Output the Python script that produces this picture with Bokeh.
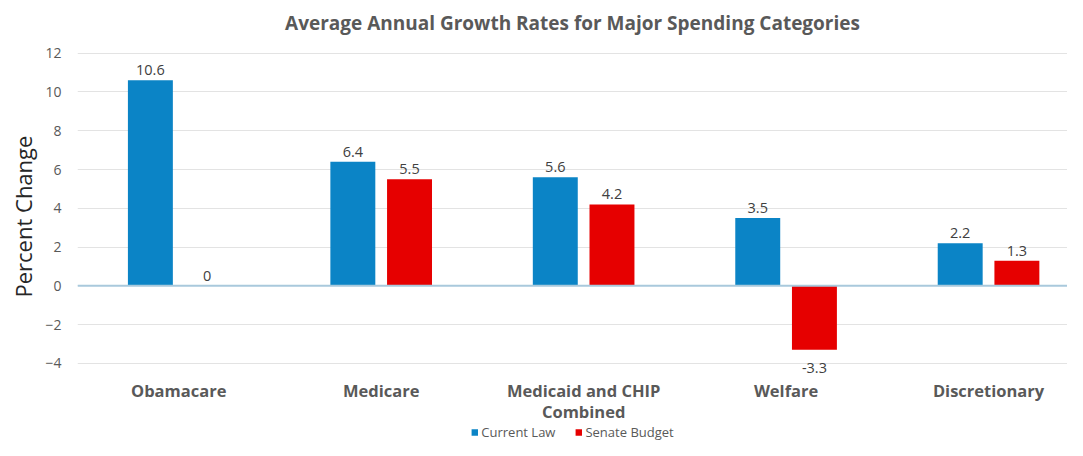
from bokeh.plotting import figure
from bokeh.layouts import column
from bokeh.models import (ColumnDataSource, Range1d, FixedTicker, Span, Legend, LegendItem, Title)
from bokeh.core.properties import value
from bokeh.embed import file_html
from bokeh.resources import INLINE

categories = ["Obamacare", "Medicare", "Medicaid and CHIP\nCombined", "Welfare", "Discretionary"]
current_law = [10.6, 6.4, 5.6, 3.5, 2.2]
senate_budget = [0, 5.5, 4.2, -3.3, 1.3]
y_ticks = [-4, -2, 0, 2, 4, 6, 8, 10, 12]
series_names = ["Current Law", "Senate Budget"]

BLUE = "#0b84c6"
RED = "#e60000"
GRAY = "#595959"
FONT = "Open Sans"

n = len(categories)
centers = [i + 0.5 for i in range(n)]
dodge = 0.14
bw = 0.222
xr = Range1d(0, 4.89)
y_min = min(y_ticks)

cur_src = ColumnDataSource(dict(x=[c - dodge for c in centers], top=current_law))
sen_src = ColumnDataSource(dict(x=[c + dodge for c in centers], top=senate_budget))

p = figure(width=1067, height=423, output_backend="svg", toolbar_location=None,
           x_range=xr, y_range=Range1d(-7.1, 12.5), x_axis_location=None,
           min_border_left=70, min_border_right=0, min_border_top=0, min_border_bottom=0)
p.outline_line_color = None
p.background_fill_color = "white"
p.border_fill_color = "white"

p.title = Title(text="Average Annual Growth Rates for Major Spending Categories",
                align="center", text_font=FONT, text_font_size="19px",
                text_font_style="bold", text_color=GRAY, offset=0, standoff=15)

p.vbar(x="x", top="top", bottom=0, width=bw, source=cur_src, fill_color=BLUE, line_color=None)
p.vbar(x="x", top="top", bottom=0, width=bw, source=sen_src, fill_color=RED, line_color=None)

p.add_layout(Span(location=0, dimension="width", line_color="#a9c9dc", line_width=2))

# value labels
for src, vals in ((cur_src, current_law), (sen_src, senate_budget)):
    xs = src.data["x"]
    pos = ColumnDataSource(dict(x=[xs[i] for i, v in enumerate(vals) if v >= 0],
                                y=[v for v in vals if v >= 0],
                                t=[f"{v:g}" for v in vals if v >= 0]))
    neg = ColumnDataSource(dict(x=[xs[i] for i, v in enumerate(vals) if v < 0],
                                y=[v for v in vals if v < 0],
                                t=[f"{v:g}" for v in vals if v < 0]))
    p.text(x="x", y="y", text="t", source=pos, text_align="center", text_baseline="bottom",
           y_offset=-5, text_font=value(FONT), text_font_size="14.5px", text_color="#404040")
    p.text(x="x", y="y", text="t", source=neg, text_align="center", text_baseline="top",
           y_offset=13, text_font=value(FONT), text_font_size="14.5px", text_color="#404040")

# category labels under the lowest gridline
cat_src = ColumnDataSource(dict(x=centers, y=[y_min] * n, t=categories))
p.text(x="x", y="y", text="t", source=cat_src, text_align="center", text_baseline="top",
       y_offset=16, text_font=value(FONT), text_font_size="16.5px", text_font_style="bold",
       text_color=GRAY, text_line_height=0.9)

p.yaxis.ticker = FixedTicker(ticks=y_ticks)
p.yaxis.axis_line_color = None
p.yaxis.major_tick_line_color = None
p.yaxis.minor_tick_line_color = None
p.yaxis.major_label_text_font = FONT
p.yaxis.major_label_text_font_size = "14px"
p.yaxis.major_label_text_color = GRAY
p.yaxis.major_label_standoff = 10

p.add_layout(Title(text="Percent Change", align="left", offset=126, standoff=10,
                   text_font=FONT, text_font_size="22px", text_font_style="normal",
                   text_color="#262626"), "left")

p.xgrid.visible = False
p.ygrid.grid_line_color = "#e3e3e3"
p.ygrid.grid_line_width = 1

# legend strip below the chart
lg = figure(width=1067, height=17, output_backend="svg", toolbar_location=None,
            x_range=xr, y_range=Range1d(0, 1),
            x_axis_location=None, y_axis_location=None,
            min_border_left=70, min_border_right=0, min_border_top=0, min_border_bottom=0)
lg.outline_line_color = None
lg.xgrid.visible = False
lg.ygrid.visible = False
d1 = lg.vbar(x=[-10], top=[0], bottom=[0], width=0.1, fill_color=BLUE, line_color=None)
d2 = lg.vbar(x=[-10], top=[0], bottom=[0], width=0.1, fill_color=RED, line_color=None)
legend = Legend(items=[LegendItem(label=series_names[0], renderers=[d1]),
                       LegendItem(label=series_names[1], renderers=[d2])],
                orientation="horizontal", location="center",
                label_text_font=FONT, label_text_font_size="13px", label_text_color=GRAY,
                glyph_width=8, glyph_height=8, spacing=19, padding=0, margin=0,
                label_standoff=3, label_height=13, border_line_color=None,
                background_fill_alpha=0)
lg.add_layout(legend, "center")

layout = column(p, lg, spacing=0)
open("out.html", "w").write(file_html(layout, INLINE))
